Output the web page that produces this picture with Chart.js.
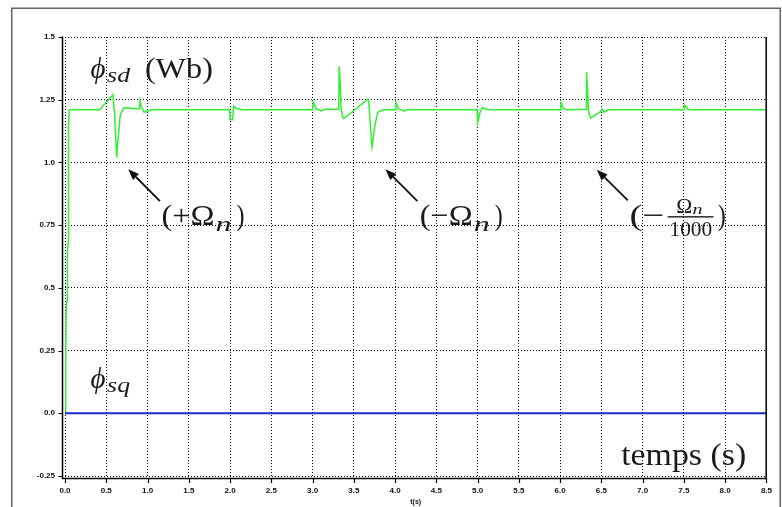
<!DOCTYPE html>
<html><head><meta charset="utf-8">
<script src="https://cdn.jsdelivr.net/npm/chart.js@4"></script>
<style>html,body{margin:0;padding:0;background:#fff;}#wrap{width:782px;height:507px;}</style>
</head><body><div id="wrap"><canvas id="c" width="782" height="507"></canvas></div>
<script>
// ---- data ----
const sdTime = [0, 0.008, 0.015, 0.025, 0.03, 0.04, 0.042, 0.052,
  0.42, 0.58, 0.60, 0.626, 0.645, 0.67, 0.71, 0.74, 0.90, 0.91, 0.925, 0.96, 1.0, 1.05,
  1.995, 2.0, 2.03, 2.045, 2.08, 2.15,
  3.0, 3.01, 3.04, 3.1, 3.15, 3.318, 3.322, 3.333, 3.345, 3.365, 3.38, 3.67, 3.68, 3.70, 3.72, 3.73, 3.75, 3.79, 3.85,
  4.0, 4.01, 4.04, 4.1, 4.15,
  4.995, 5.0, 5.03, 5.06, 5.1, 5.15,
  6.0, 6.01, 6.04, 6.09, 6.315, 6.32, 6.33, 6.345, 6.37, 6.48, 6.51, 6.53, 6.57, 6.6,
  7.5, 7.51, 7.55, 7.6, 8.5];
const sdFlux = [0, 0.19, 0.43, 0.45, 0.65, 0.68, 1.15, 1.21,
  1.21, 1.27, 1.20, 1.02, 1.10, 1.19, 1.215, 1.218, 1.213, 1.245, 1.22, 1.20, 1.205, 1.21,
  1.21, 1.17, 1.17, 1.225, 1.215, 1.21,
  1.21, 1.241, 1.215, 1.205, 1.212, 1.212, 1.383, 1.33, 1.22, 1.18, 1.175, 1.252, 1.245, 1.15, 1.062, 1.08, 1.14, 1.20, 1.21,
  1.21, 1.239, 1.215, 1.205, 1.21,
  1.21, 1.16, 1.20, 1.219, 1.212, 1.21,
  1.21, 1.239, 1.215, 1.21, 1.212, 1.36, 1.30, 1.20, 1.177, 1.20, 1.212, 1.20, 1.208, 1.21,
  1.21, 1.228, 1.212, 1.21, 1.21];
const sqTime = [0, 8.5];
const sqFlux = [0, 0];
const xTickValues = [0,0.5,1,1.5,2,2.5,3,3.5,4,4.5,5,5.5,6,6.5,7,7.5,8,8.5];
const xTickLabels = ['0.0','0.5','1.0','1.5','2.0','2.5','3.0','3.5','4.0','4.5','5.0','5.5','6.0','6.5','7.0','7.5','8.0','8.5'];
const yTickValues = [-0.25,0,0.25,0.5,0.75,1.0,1.25,1.5];
const yTickLabels = ['-0.25','0.0','0.25','0.5','0.75','1.0','1.25','1.5'];
const xTitle = 't(s)';
// annotation anchors (data units)
const arrows = [ // [tailT, tailV, headT, headV]
  [1.15, 0.846, 0.766, 0.973],
  [4.27, 0.846, 3.883, 0.973],
  [6.82, 0.849, 6.444, 0.971]
];

const toPts = (ts, vs) => ts.map((t, i) => ({x: t, y: vs[i]}));

function put(ctx, s, x, y, font, w) {
  ctx.font = font;
  const nat = ctx.measureText(s).width;
  ctx.save();
  ctx.translate(x, y);
  if (w) ctx.scale(w / nat, 1);
  ctx.textAlign = 'left';
  ctx.textBaseline = 'alphabetic';
  ctx.fillText(s, 0, 0);
  ctx.restore();
}

const SERIF = "'Liberation Serif','DejaVu Serif',serif";
const extras = {
  id: 'extras',
  afterDraw(chart) {
    const {ctx, chartArea: ca} = chart;
    const X = chart.scales.x, Y = chart.scales.y;
    const px = t => X.getPixelForValue(t), py = v => Y.getPixelForValue(v);
    ctx.save();
    // outer frame
    ctx.strokeStyle = '#666'; ctx.lineWidth = 1.5;
    ctx.strokeRect(11.75, 8.25, 768.5, 505);
    // axes lines
    ctx.strokeStyle = '#000'; ctx.lineWidth = 1.5;
    const L = ca.left - 2.5, B = ca.bottom + 2.5, R = ca.right - 0.25;
    ctx.beginPath();
    ctx.moveTo(L, ca.top - 0.5); ctx.lineTo(L, B); ctx.lineTo(R, B); ctx.lineTo(R, ca.top);
    ctx.stroke();
    ctx.lineWidth = 1.2;
    ctx.beginPath();
    xTickValues.forEach(v => { const p = Math.round(px(v)) + 0.5; ctx.moveTo(p, B); ctx.lineTo(p, B + 4.5); });
    yTickValues.forEach(v => { const p = Math.round(py(v)) + 0.5; ctx.moveTo(L - 4, p); ctx.lineTo(L, p); });
    ctx.stroke();
    // x title
    ctx.fillStyle = '#111';
    ctx.font = "bold 7px 'Liberation Sans', Arial, sans-serif";
    ctx.textAlign = 'center'; ctx.textBaseline = 'middle';
    ctx.fillText(xTitle, (ca.left + ca.right) / 2, 502);

    ctx.fillStyle = '#1a1a1a';
    // phi_sd (Wb)
    let bx = px(0.31), by = py(1.337);
    put(ctx, 'ϕ', bx, by, 'italic 30px ' + SERIF, 15);
    put(ctx, 'sd', bx + 16.5, by + 4, 'italic 21px ' + SERIF, 23);
    put(ctx, '(Wb)', bx + 54.3, by, '30px ' + SERIF, 68);
    // phi_sq
    bx = px(0.31); by = py(0.1);
    put(ctx, 'ϕ', bx, by, 'italic 30px ' + SERIF, 15);
    put(ctx, 'sq', bx + 16.5, by + 4, 'italic 21px ' + SERIF, 23);
    // (+Omega_n)
    const omegaLabel = (t, sign) => {
      const x0 = px(t), y0 = py(0.752);
      put(ctx, '(' + sign + 'Ω', x0, y0, '30px ' + SERIF, 53);
      put(ctx, 'n', x0 + 54, y0 + 6, 'italic 22px ' + SERIF, 16);
      put(ctx, ')', x0 + 75, y0, '30px ' + SERIF, 8);
    };
    omegaLabel(1.17, '+');
    omegaLabel(4.30, '−');
    // (- Omega_n / 1000)
    bx = px(6.84); by = py(0.752);
    put(ctx, '(−', bx, by, '30px ' + SERIF, 35);
    put(ctx, 'Ω', bx + 46.7, by - 11.5, '22px ' + SERIF, 16);
    put(ctx, 'n', bx + 63, by - 10.5, 'italic 15px ' + SERIF, 10);
    ctx.fillRect(bx + 38.3, by - 8.5, 45.7, 1.4);
    put(ctx, '1000', bx + 40, by + 11, '21px ' + SERIF, 42.7);
    put(ctx, ')', bx + 88.3, by, '30px ' + SERIF, 8);
    // temps (s)
    put(ctx, 'temps (s)', px(6.74), py(-0.207), '32px ' + SERIF, 125);

    // arrows
    ctx.strokeStyle = '#111'; ctx.fillStyle = '#111'; ctx.lineWidth = 1.8;
    arrows.forEach(a => {
      const x1 = px(a[0]), y1 = py(a[1]), x2 = px(a[2]), y2 = py(a[3]);
      const ang = Math.atan2(y2 - y1, x2 - x1);
      const hl = 11, hw = 4.2;
      const bxp = x2 - hl * Math.cos(ang), byp = y2 - hl * Math.sin(ang);
      ctx.beginPath(); ctx.moveTo(x1, y1); ctx.lineTo(bxp, byp); ctx.stroke();
      ctx.beginPath();
      ctx.moveTo(x2, y2);
      ctx.lineTo(bxp + hw * Math.sin(ang), byp - hw * Math.cos(ang));
      ctx.lineTo(bxp - hw * Math.sin(ang), byp + hw * Math.cos(ang));
      ctx.closePath(); ctx.fill();
    });
    ctx.restore();
  }
};

const tickFont = {family: "'Liberation Sans', Arial, sans-serif", size: 8, weight: 'bold'};
new Chart(document.getElementById('c'), {
  type: 'line',
  data: {
    datasets: [
      {data: toPts(sqTime, sqFlux), borderColor: '#1a2ad0', borderWidth: 2, pointRadius: 0, tension: 0},
      {data: toPts(sdTime, sdFlux), borderColor: '#2ff22f', borderWidth: 1.5, pointRadius: 0, tension: 0}
    ]
  },
  options: {
    responsive: false, animation: false, devicePixelRatio: 1,
    layout: {padding: {top: 37, right: 15, left: 0, bottom: 0}},
    plugins: {legend: {display: false}, tooltip: {enabled: false}},
    scales: {
      x: {
        type: 'linear', min: 0, max: 8.5,
        afterBuildTicks: s => { s.ticks = xTickValues.map(v => ({value: v})); },
        afterFit: s => { s.height = 31; },
        ticks: {callback: v => xTickLabels[xTickValues.indexOf(v)], font: tickFont, color: '#111', padding: 10, maxRotation: 0, autoSkip: false},
        grid: {color: '#000', lineWidth: 1, drawTicks: false},
        border: {display: false, dash: [1, 2]}
      },
      y: {
        type: 'linear', min: -0.25, max: 1.5,
        afterBuildTicks: s => { s.ticks = yTickValues.map(v => ({value: v})); },
        afterFit: s => { s.width = 65; },
        ticks: {callback: v => yTickLabels[yTickValues.indexOf(v)], font: tickFont, color: '#111', padding: 10, autoSkip: false},
        grid: {color: '#000', lineWidth: 1, drawTicks: false},
        border: {display: false, dash: [1, 2]}
      }
    }
  },
  plugins: [extras]
});
</script></body></html>
